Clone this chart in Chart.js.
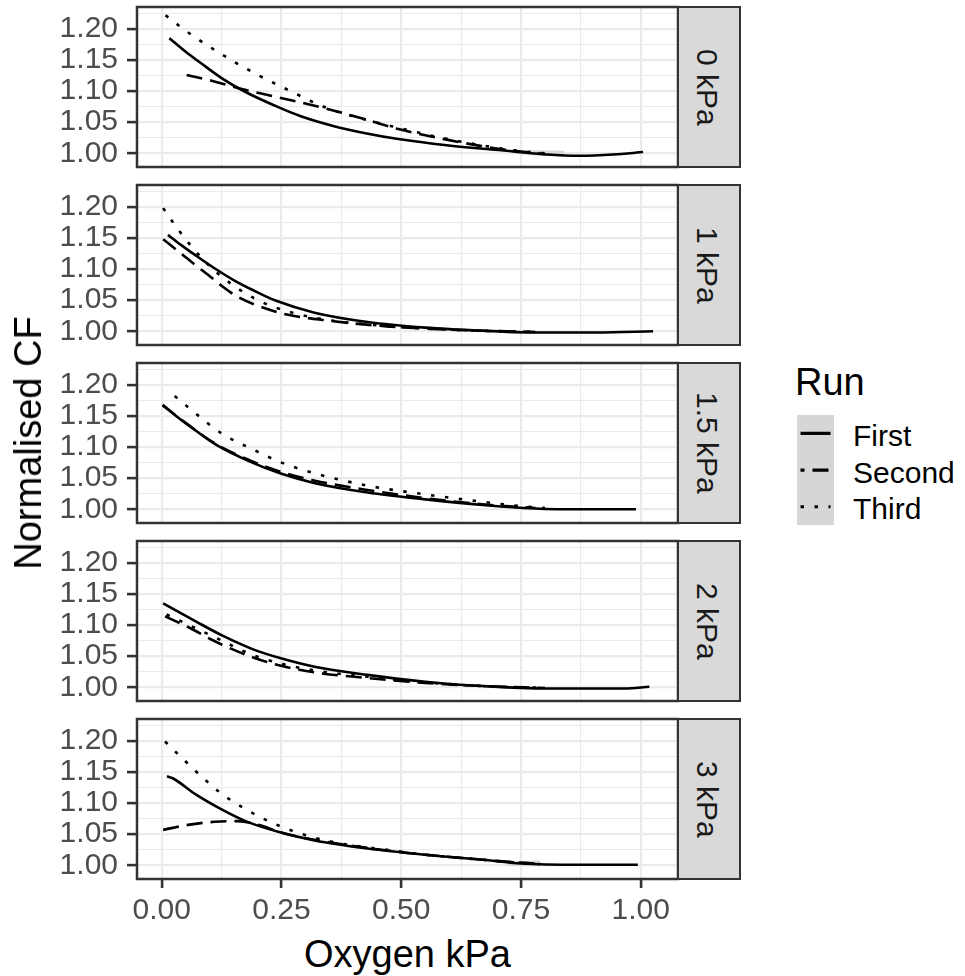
<!DOCTYPE html>
<html>
<head>
<meta charset="utf-8">
<script src="https://cdn.jsdelivr.net/npm/chart.js@4.4.1/dist/chart.umd.min.js"></script>
<style>
  html,body{margin:0;padding:0;background:#fff;}
  #root{position:relative;width:965px;height:976px;overflow:hidden;background:#fff;font-family:"Liberation Sans",Arial,sans-serif;}
  canvas{position:absolute;left:0;}
  .strip{position:absolute;box-sizing:border-box;border:2.5px solid #333333;background:#D9D9D9;display:flex;align-items:center;justify-content:center;}
  .strip span{writing-mode:vertical-rl;font-size:30px;line-height:1;color:#1A1A1A;white-space:nowrap;margin-right:4px;}
  .txt{position:absolute;white-space:nowrap;line-height:1;}
</style>
</head>
<body>
<div id="root"></div>
<script>
// ---------- data ----------
const PANELS = ['0 kPa', '1 kPa', '1.5 kPa', '2 kPa', '3 kPa'];
const RUNS = ['First', 'Second', 'Third'];
const X_TICKS = [0, 0.25, 0.5, 0.75, 1.0];
const X_MINOR = [0.125, 0.375, 0.625, 0.875];
const Y_TICKS = [1.00, 1.05, 1.10, 1.15, 1.20];
const Y_MINOR = [1.025, 1.075, 1.125, 1.175, 1.225];
const X_TITLE = 'Oxygen kPa';
const Y_TITLE = 'Normalised CF';
const LEGEND_TITLE = 'Run';

// 0 kPa
const P0_FIRST_X  = [0.016,0.052,0.08,0.125,0.174,0.247,0.289,0.358,0.428,0.494,0.595,0.734,0.804,0.873,0.943,1.005];
const P0_FIRST_Y  = [1.185,1.162,1.146,1.121,1.099,1.073,1.060,1.044,1.032,1.023,1.013,1.003,0.998,0.996,0.998,1.002];
const P0_SECOND_X = [0.052,0.108,0.174,0.219,0.289,0.358,0.428,0.494,0.595,0.665,0.734,0.80];
const P0_SECOND_Y = [1.126,1.116,1.102,1.094,1.082,1.069,1.054,1.039,1.022,1.012,1.004,0.999];
const P0_THIRD_X  = [0.008,0.052,0.115,0.198,0.261,0.341,0.421,0.494,0.56,0.63,0.734,0.80];
const P0_THIRD_Y  = [1.222,1.196,1.164,1.127,1.103,1.074,1.055,1.041,1.029,1.018,1.005,1.000];
// 1 kPa
const P1_FIRST_X  = [0.013,0.04,0.071,0.111,0.151,0.191,0.239,0.319,0.43,0.55,0.67,0.79,0.91,1.026];
const P1_FIRST_Y  = [1.155,1.139,1.122,1.101,1.082,1.066,1.049,1.030,1.015,1.006,1.001,0.998,0.998,1.000];
const P1_SECOND_X = [0.003,0.039,0.071,0.103,0.127,0.151,0.191,0.255,0.35,0.47,0.59,0.67,0.78];
const P1_SECOND_Y = [1.148,1.126,1.106,1.087,1.072,1.059,1.044,1.028,1.017,1.008,1.003,1.001,0.999];
const P1_THIRD_X  = [0.003,0.019,0.035,0.051,0.067,0.087,0.111,0.151,0.191,0.231,0.311,0.43,0.59,0.78];
const P1_THIRD_Y  = [1.198,1.180,1.163,1.147,1.132,1.115,1.097,1.073,1.054,1.040,1.023,1.011,1.003,0.999];
// 1.5 kPa
const P2_FIRST_X  = [0.002,0.03,0.07,0.115,0.183,0.25,0.32,0.43,0.55,0.67,0.79,0.91,0.99];
const P2_FIRST_Y  = [1.168,1.150,1.127,1.103,1.077,1.057,1.042,1.027,1.016,1.007,1.001,1.000,1.000];
const P2_SECOND_X = [0.002,0.05,0.115,0.183,0.25,0.32,0.43,0.55,0.67,0.78];
const P2_SECOND_Y = [1.167,1.139,1.104,1.079,1.060,1.046,1.031,1.018,1.008,1.002];
const P2_THIRD_X  = [0.027,0.071,0.127,0.191,0.247,0.319,0.43,0.55,0.67,0.75,0.80];
const P2_THIRD_Y  = [1.182,1.154,1.121,1.096,1.076,1.058,1.038,1.024,1.012,1.005,1.002];
// 2 kPa
const P3_FIRST_X  = [0.003,0.071,0.127,0.191,0.247,0.319,0.43,0.55,0.67,0.806,0.966,1.018];
const P3_FIRST_Y  = [1.135,1.106,1.083,1.061,1.047,1.033,1.020,1.009,1.002,0.998,0.998,1.001];
const P3_SECOND_X = [0.007,0.055,0.111,0.191,0.247,0.319,0.43,0.55,0.67,0.80];
const P3_SECOND_Y = [1.114,1.097,1.074,1.048,1.035,1.024,1.015,1.007,1.002,0.999];
const P3_THIRD_X  = [0.01,0.06,0.12,0.19,0.25,0.32,0.43,0.55,0.67,0.80];
const P3_THIRD_Y  = [1.117,1.099,1.077,1.052,1.038,1.027,1.017,1.008,1.002,0.999];
// 3 kPa
const P4_FIRST_X  = [0.011,0.023,0.071,0.127,0.175,0.247,0.319,0.43,0.55,0.67,0.75,0.87,0.994];
const P4_FIRST_Y  = [1.143,1.140,1.114,1.089,1.071,1.053,1.040,1.027,1.017,1.009,1.003,1.001,1.001];
const P4_SECOND_X = [0.003,0.055,0.111,0.159,0.207,0.247,0.319,0.43,0.55,0.67,0.79];
const P4_SECOND_Y = [1.057,1.065,1.070,1.071,1.064,1.053,1.041,1.028,1.017,1.009,1.002];
const P4_THIRD_X  = [0.007,0.047,0.087,0.127,0.167,0.207,0.247,0.311,0.39,0.47,0.55,0.67,0.75,0.79];
const P4_THIRD_Y  = [1.199,1.169,1.140,1.114,1.094,1.077,1.063,1.046,1.033,1.025,1.017,1.009,1.004,1.002];
// confidence ribbons visible at the end of some fits
const P0_BAND_X  = [0.73,0.77,0.84];
const P0_BAND_LO = [1.000,0.997,0.995];
const P0_BAND_HI = [1.006,1.005,1.004];
const P4_BAND_X  = [0.72,0.755,0.79];
const P4_BAND_LO = [0.9995,0.999,0.998];
const P4_BAND_HI = [1.006,1.007,1.008];

const SERIES = [
  [[P0_FIRST_X,P0_FIRST_Y],[P0_SECOND_X,P0_SECOND_Y],[P0_THIRD_X,P0_THIRD_Y]],
  [[P1_FIRST_X,P1_FIRST_Y],[P1_SECOND_X,P1_SECOND_Y],[P1_THIRD_X,P1_THIRD_Y]],
  [[P2_FIRST_X,P2_FIRST_Y],[P2_SECOND_X,P2_SECOND_Y],[P2_THIRD_X,P2_THIRD_Y]],
  [[P3_FIRST_X,P3_FIRST_Y],[P3_SECOND_X,P3_SECOND_Y],[P3_THIRD_X,P3_THIRD_Y]],
  [[P4_FIRST_X,P4_FIRST_Y],[P4_SECOND_X,P4_SECOND_Y],[P4_THIRD_X,P4_THIRD_Y]]
];
const BANDS = [[P0_BAND_X,P0_BAND_LO,P0_BAND_HI], null, null, null, [P4_BAND_X,P4_BAND_LO,P4_BAND_HI]];

// ---------- layout / style ----------
const X_MIN = -0.0516, X_MAX = 1.0779;
const Y_MIN = 0.978, Y_MAX = 1.2352;
const PANEL_TOP = [7, 185, 363, 541, 719];
const PANEL_H = 160;
const PANEL_LEFT = 137, PANEL_RIGHT = 678;
const M = 22;           // canvas margin above/below a panel
const CANVAS_W = 700;
const X_AXIS_H = 52;
const FONT = '"Liberation Sans", Arial, sans-serif';
const DASHES = [[], [16, 8], [3.5, 10.5]];

const isMajor = (v, list) => list.some(t => Math.abs(t - v) < 1e-9);

const borderPlugin = {
  id: 'panelBorder',
  afterDraw(chart) {
    const a = chart.chartArea, c = chart.ctx;
    c.save();
    c.strokeStyle = '#333333';
    c.lineWidth = 2.5;
    c.strokeRect(a.left, a.top, a.right - a.left, a.bottom - a.top);
    c.restore();
  }
};

const root = document.getElementById('root');

PANELS.forEach((name, p) => {
  const last = p === PANELS.length - 1;
  const cv = document.createElement('canvas');
  const h = M + PANEL_H + (last ? X_AXIS_H : M);
  cv.width = CANVAS_W; cv.height = h;
  cv.style.top = (PANEL_TOP[p] - M) + 'px';
  cv.style.width = CANVAS_W + 'px'; cv.style.height = h + 'px';
  root.appendChild(cv);

  const datasets = SERIES[p].map((s, r) => ({
    label: RUNS[r],
    data: s[0].map((x, i) => ({x: x, y: s[1][i]})),
    borderColor: '#000000',
    borderWidth: 2.6,
    borderDash: DASHES[r],
    borderCapStyle: 'butt',
    pointRadius: 0,
    fill: false,
    cubicInterpolationMode: 'monotone'
  }));
  if (BANDS[p]) {
    const b = BANDS[p];
    datasets.push({
      label: 'band-lo', data: b[0].map((x, i) => ({x: x, y: b[1][i]})),
      borderWidth: 0, pointRadius: 0, fill: false, borderColor: 'rgba(0,0,0,0)'
    });
    datasets.push({
      label: 'band-hi', data: b[0].map((x, i) => ({x: x, y: b[2][i]})),
      borderWidth: 0, pointRadius: 0, fill: '-1', borderColor: 'rgba(0,0,0,0)',
      backgroundColor: '#D6D6D6'
    });
  }

  new Chart(cv, {
    type: 'line',
    data: {datasets: datasets},
    plugins: [borderPlugin],
    options: {
      responsive: false,
      animation: false,
      devicePixelRatio: 1,
      events: [],
      layout: {padding: {top: M, left: 0, right: CANVAS_W - PANEL_RIGHT, bottom: last ? 0 : M}},
      plugins: {legend: {display: false}, tooltip: {enabled: false}},
      scales: {
        x: {
          type: 'linear', min: X_MIN, max: X_MAX,
          afterBuildTicks: s => { s.ticks = X_TICKS.concat(X_MINOR).sort((a, b) => a - b).map(v => ({value: v})); },
          afterFit: s => { s.height = last ? X_AXIS_H : 0; s.paddingLeft = 0; s.paddingRight = 0; },
          border: {display: false},
          grid: {
            color: '#EBEBEB',
            lineWidth: c => (c.tick && isMajor(c.tick.value, X_TICKS)) ? 2.2 : 1.1,
            drawTicks: last,
            tickLength: 9,
            tickWidth: 2.6,
            tickColor: c => (c.tick && isMajor(c.tick.value, X_TICKS)) ? '#333333' : 'rgba(0,0,0,0)'
          },
          ticks: {
            display: last, autoSkip: false, maxRotation: 0, minRotation: 0,
            padding: 5, color: '#4D4D4D',
            font: {family: FONT, size: 30},
            callback: v => isMajor(v, X_TICKS) ? v.toFixed(2) : ''
          }
        },
        y: {
          type: 'linear', min: Y_MIN, max: Y_MAX,
          afterBuildTicks: s => { s.ticks = Y_TICKS.concat(Y_MINOR).sort((a, b) => a - b).map(v => ({value: v})); },
          afterFit: s => { s.width = PANEL_LEFT; s.paddingTop = 0; s.paddingBottom = 0; },
          border: {display: false},
          grid: {
            color: '#EBEBEB',
            lineWidth: c => (c.tick && isMajor(c.tick.value, Y_TICKS)) ? 2.2 : 1.1,
            drawTicks: true,
            tickLength: 10,
            tickWidth: 2.6,
            tickColor: c => (c.tick && isMajor(c.tick.value, Y_TICKS)) ? '#333333' : 'rgba(0,0,0,0)'
          },
          ticks: {
            autoSkip: false, padding: 9, color: '#4D4D4D',
            font: {family: FONT, size: 30},
            callback: v => isMajor(v, Y_TICKS) ? v.toFixed(2) : ''
          }
        }
      }
    }
  });

  const st = document.createElement('div');
  st.className = 'strip';
  st.style.left = (PANEL_RIGHT - 1) + 'px';
  st.style.top = (PANEL_TOP[p] - 1) + 'px';
  st.style.width = '64px';
  st.style.height = (PANEL_H + 2) + 'px';
  st.innerHTML = '<span></span>';
  st.firstChild.textContent = name;
  root.appendChild(st);
});

// axis titles
function addText(txt, css) {
  const d = document.createElement('div');
  d.className = 'txt';
  d.textContent = txt;
  Object.assign(d.style, css);
  root.appendChild(d);
  return d;
}
const xt = addText(X_TITLE, {fontSize: '38px', color: '#000', top: '935px', left: '0px'});
xt.style.left = ((PANEL_LEFT + PANEL_RIGHT) / 2 - xt.offsetWidth / 2) + 'px';
const yt = addText(Y_TITLE, {fontSize: '38px', color: '#000', left: '28px', top: '443px', transform: 'translate(-50%,-50%) rotate(-90deg)'});

// legend
addText(LEGEND_TITLE, {fontSize: '38px', color: '#000', left: '795px', top: '363px'});
const KEY_TOP = 415, KEY_H = 36.7, KEY_W = 37, KEY_LEFT = 797;
const svgNS = 'http://www.w3.org/2000/svg';
const svg = document.createElementNS(svgNS, 'svg');
svg.setAttribute('width', KEY_W);
svg.setAttribute('height', KEY_H * RUNS.length);
svg.style.position = 'absolute';
svg.style.left = KEY_LEFT + 'px';
svg.style.top = KEY_TOP + 'px';
const bg = document.createElementNS(svgNS, 'rect');
bg.setAttribute('width', KEY_W); bg.setAttribute('height', KEY_H * RUNS.length);
bg.setAttribute('fill', '#D6D6D6');
svg.appendChild(bg);
RUNS.forEach((r, i) => {
  const cy = KEY_H * i + KEY_H / 2;
  const ln = document.createElementNS(svgNS, 'line');
  ln.setAttribute('x1', 3.5); ln.setAttribute('x2', 33.5);
  ln.setAttribute('y1', cy); ln.setAttribute('y2', cy);
  ln.setAttribute('stroke', '#000'); ln.setAttribute('stroke-width', 3.2);
  if (DASHES[i].length) {
    ln.setAttribute('stroke-dasharray', DASHES[i].join(' '));
    if (i === 1) ln.setAttribute('stroke-dashoffset', 12);
  }
  svg.appendChild(ln);
  addText(r, {fontSize: '30px', color: '#000', left: '853px', top: (KEY_TOP + cy + 13 - 25.4) + 'px'});
});
root.appendChild(svg);
</script>
</body>
</html>
